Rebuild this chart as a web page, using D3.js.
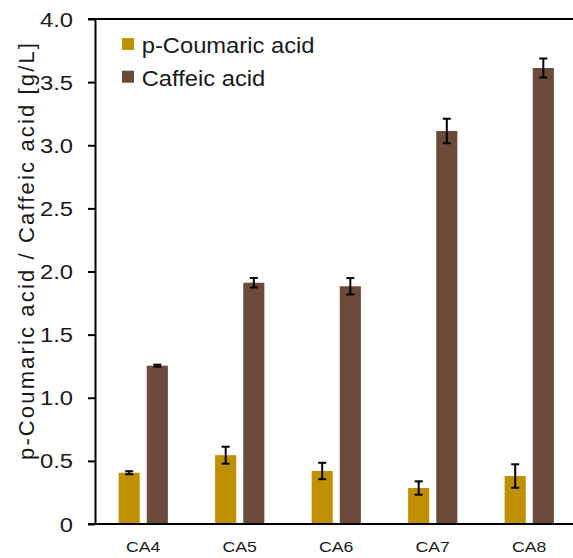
<!DOCTYPE html>
<html><head><meta charset="utf-8">
<script src="https://cdn.jsdelivr.net/npm/d3@7"></script>
<style>
body{margin:0;background:#fff;}
text{font-family:"Liberation Sans",Arial,sans-serif;fill:#1a1a1a;}
</style></head>
<body>
<svg id="chart" width="573" height="558"></svg>
<script>
const categories = ["CA4","CA5","CA6","CA7","CA8"];
const seriesNames = ["p-Coumaric acid","Caffeic acid"];
const coumaric = [0.406, 0.545, 0.420, 0.285, 0.380];
const coumaricErr = [0.012, 0.067, 0.065, 0.053, 0.093];
const caffeic = [1.254, 1.911, 1.883, 3.113, 3.612];
const caffeicErr = [0.008, 0.038, 0.065, 0.097, 0.075];
const yTicks = [0,0.5,1.0,1.5,2.0,2.5,3.0,3.5,4.0];
const colors = ["#C09000","#6B4A3C"];
const yTitle = "p-Coumaric acid / Caffeic acid [g/L]";

const svg = d3.select("#chart");
const mLeft = 95, mRight = 577.5, mTop = 19, mBottom = 524;
const y = d3.scaleLinear().domain([0,4]).range([mBottom, mTop]);
const x0 = d3.scaleBand().domain(categories).range([mLeft, mRight]).paddingInner(0.49).paddingOuter(0.245);
const x1 = d3.scaleBand().domain(seriesNames).range([0, x0.bandwidth()]).paddingInner(0.25);

const data = categories.map((c,i)=>({cat:c, vals:[
  {s:seriesNames[0], v:coumaric[i], e:coumaricErr[i], col:colors[0]},
  {s:seriesNames[1], v:caffeic[i], e:caffeicErr[i], col:colors[1]}]}));

// bars
const g = svg.append("g");
const grp = g.selectAll("g.cat").data(data).join("g")
  .attr("transform", d=>`translate(${x0(d.cat)},0)`);
grp.selectAll("rect").data(d=>d.vals).join("rect")
  .attr("x", d=>x1(d.s)).attr("width", x1.bandwidth())
  .attr("y", d=>y(d.v)).attr("height", d=>y(0)-y(d.v))
  .attr("fill", d=>d.col);
// error bars
const eb = grp.selectAll("g.eb").data(d=>d.vals).join("g").attr("class","eb")
  .attr("stroke","#000").attr("stroke-width",2);
eb.append("line").attr("x1",d=>x1(d.s)+x1.bandwidth()/2).attr("x2",d=>x1(d.s)+x1.bandwidth()/2)
  .attr("y1",d=>y(d.v+d.e)).attr("y2",d=>y(d.v-d.e));
eb.append("line").attr("x1",d=>x1(d.s)+x1.bandwidth()/2-4).attr("x2",d=>x1(d.s)+x1.bandwidth()/2+4)
  .attr("y1",d=>y(d.v+d.e)).attr("y2",d=>y(d.v+d.e));
eb.append("line").attr("x1",d=>x1(d.s)+x1.bandwidth()/2-4).attr("x2",d=>x1(d.s)+x1.bandwidth()/2+4)
  .attr("y1",d=>y(d.v-d.e)).attr("y2",d=>y(d.v-d.e));

// y axis
const yAxis = d3.axisLeft(y).tickValues(yTicks).tickSize(7).tickSizeOuter(0).tickPadding(15)
  .tickFormat(d=> d===0 ? "0" : d3.format(".1f")(d));
const ya = svg.append("g").attr("transform",`translate(${mLeft},0)`).call(yAxis);
ya.select(".domain").attr("stroke","#000").attr("stroke-width",2);
ya.selectAll(".tick line").attr("stroke","#000").attr("stroke-width",2);
ya.selectAll(".tick text").attr("font-size",19.5).attr("fill","#1a1a1a")
  .style("font-family","Liberation Sans, Arial, sans-serif")
  .each(function(){
    const t = d3.select(this); const xx = +t.attr("x");
    t.attr("x",0).attr("dy","0.36em").attr("transform",`translate(${xx},0) scale(1.22,1)`);
  });

// x axis line and top border (frame lines)
svg.append("rect").attr("x",mLeft-7).attr("y",y(0)-1).attr("width",573-(mLeft-7)).attr("height",2).attr("fill","#000");
svg.append("rect").attr("x",mLeft-7).attr("y",y(4)-1).attr("width",573-(mLeft-7)).attr("height",2).attr("fill","#000");

// x labels
svg.append("g").selectAll("text").data(categories).join("text")
  .attr("transform", d=>`translate(${x0(d)+x0.bandwidth()/2},552) scale(1.22,1)`)
  .attr("text-anchor","middle").attr("font-size",14.5).text(d=>d);

// y title
svg.append("text")
  .attr("transform","translate(34,251.5) rotate(-90)")
  .attr("text-anchor","middle").attr("font-size",22)
  .attr("textLength",417).attr("lengthAdjust","spacing")
  .text(yTitle);

// legend
const leg = svg.append("g").selectAll("g").data(seriesNames).join("g")
  .attr("transform",(d,i)=>`translate(122,${38 + i*32.7})`);
leg.append("rect").attr("width",12).attr("height",12).attr("fill",(d,i)=>colors[i]);
leg.append("text").attr("transform","translate(19.7,15) scale(1.08,1)")
  .attr("font-size",22).text(d=>d);
</script>
</body></html>
